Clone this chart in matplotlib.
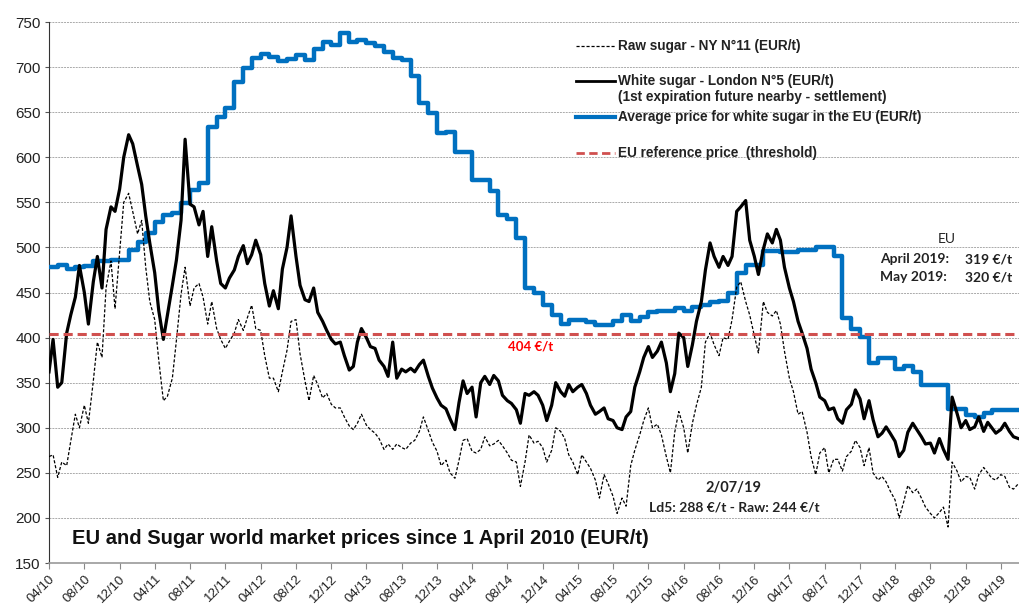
import pandas as pd
import matplotlib.pyplot as plt

plt.rcParams['font.family'] = ['Liberation Sans', 'DejaVu Sans']

# EUR/t, values on the 1st and 15th of each month, starting 1 April 2010
white_london = [
    362, 398, 345, 350, 405, 425, 445, 480, 450, 415, 462, 490, 455, 520, 545, 540, 565, 600, 625, 615, 590, 570, 535, 505,
    472, 430, 398, 425, 458, 486, 530, 620, 548, 545, 525, 540, 490, 523, 485, 460, 455, 466, 475, 490, 502, 482, 492, 508,
    492, 460, 435, 452, 432, 476, 500, 535, 490, 458, 442, 440, 455, 428, 418, 408, 398, 393, 395, 380, 364, 368, 395, 410,
    400, 390, 388, 375, 368, 357, 395, 355, 365, 362, 366, 362, 370, 375, 357, 344, 333, 325, 321, 310, 298, 328, 352, 338,
    345, 312, 350, 357, 348, 358, 352, 336, 330, 327, 320, 305, 338, 336, 340, 336, 325, 308, 325, 350, 340, 335, 348, 340,
    345, 348, 338, 325, 315, 318, 322, 310, 308, 300, 298, 312, 318, 345, 362, 378, 390, 378, 385, 395, 372, 340, 360, 405,
    400, 368, 392, 418, 440, 475, 505, 490, 478, 490, 480, 490, 540, 545, 552, 508, 490, 470, 498, 515, 505, 520, 508, 478,
    455, 440, 418, 405, 388, 365, 350, 334, 330, 320, 322, 310, 305, 320, 326, 342, 332, 310, 330, 309, 290, 294, 301, 294,
    285, 268, 275, 295, 305, 298, 290, 282, 283, 272, 288, 276, 265, 334, 316, 300, 308, 298, 301, 312, 296, 306, 300, 294,
    298, 305, 296, 290, 288,
]
raw_ny = [
    268, 270, 245, 262, 258, 285, 315, 300, 325, 305, 352, 395, 378, 455, 485, 432, 495, 550, 560, 540, 515, 530, 478, 440,
    420, 375, 330, 335, 355, 397, 448, 478, 435, 455, 460, 445, 415, 440, 410, 398, 388, 396, 405, 420, 408, 422, 436, 410,
    408, 380, 355, 355, 340, 362, 386, 418, 420, 382, 352, 330, 358, 348, 333, 338, 326, 322, 322, 312, 302, 298, 305, 315,
    303, 298, 294, 288, 276, 282, 276, 282, 278, 276, 283, 286, 296, 312, 297, 284, 274, 258, 264, 250, 244, 264, 286, 288,
    274, 272, 276, 290, 280, 282, 286, 280, 272, 264, 262, 235, 262, 292, 283, 285, 278, 262, 275, 300, 296, 288, 270, 262,
    248, 270, 262, 255, 242, 222, 248, 238, 224, 205, 222, 213, 258, 275, 292, 308, 322, 300, 304, 292, 268, 250, 295, 318,
    300, 272, 305, 325, 345, 395, 405, 392, 380, 400, 398, 420, 456, 462, 440, 425, 402, 383, 440, 428, 424, 430, 415, 385,
    355, 340, 315, 318, 295, 268, 248, 272, 278, 250, 265, 265, 252, 268, 274, 286, 278, 258, 278, 250, 242, 246, 240, 230,
    220, 200, 218, 236, 228, 232, 222, 212, 205, 200, 206, 212, 190, 262, 252, 240, 246, 245, 232, 248, 256, 250, 244, 242,
    248, 246, 234, 232, 238,
]
# monthly average price for white sugar in the EU, from April 2010
eu_average = [
    478, 480, 476, 478, 479, 485, 485, 486, 486, 497, 506, 516,
    528, 536, 538, 549, 564, 572, 634, 645, 655, 684, 699, 710,
    715, 711, 707, 709, 713, 708, 720, 728, 724, 738, 728, 730,
    727, 723, 717, 710, 708, 690, 660, 649, 627, 628, 606, 606,
    575, 575, 563, 536, 532, 510, 455, 450, 436, 425, 415, 419,
    419, 417, 414, 414, 418, 425, 418, 423, 428, 430, 430, 433,
    429, 434, 436, 440, 441, 449, 472, 481, 481, 496, 496, 495,
    495, 497, 497, 501, 501, 490, 422, 410, 401, 372, 377, 377,
    365, 368, 362, 347, 347, 347, 321, 321, 314, 312, 316, 320,
    320, 320, 320,
]
reference_price = 404

half_months = pd.date_range('2010-04-01', periods=len(white_london), freq='SMS')
months = pd.date_range('2010-04-01', periods=len(eu_average), freq='MS')
x_start = pd.Timestamp('2010-04-01')
x_end = pd.Timestamp('2019-06-03')
tick_dates = pd.date_range('2010-04-01', '2019-04-01', freq='4MS')

fig = plt.figure(figsize=(10.19, 6.05), dpi=100)
ax = fig.add_axes([0.0481, 0.0694, 0.9519, 0.8942])

ax.step(list(months) + [x_end], eu_average + [eu_average[-1]], where='post',
        color='#0070c0', lw=3.2, zorder=3)
ax.plot(half_months, raw_ny, color='black', lw=0.9, linestyle=(0, (2.5, 1.5)), zorder=4)
ax.plot(half_months, white_london, color='black', lw=2.3, zorder=5)
ax.axhline(reference_price, color='#d0504f', lw=2.2, linestyle=(0, (3, 1.6)), zorder=6)

ax.set_xlim(x_start, x_end)
ax.set_ylim(150, 750)
ax.set_yticks(range(150, 751, 50))
ax.set_xticks(tick_dates)
ax.set_xticklabels([d.strftime('%m/%y') for d in tick_dates], rotation=45,
                   ha='right', rotation_mode='anchor', fontsize=9.5)
ax.tick_params(axis='y', labelsize=11, length=3, color='#555555', pad=3, labelcolor='#222222')
ax.tick_params(axis='x', length=4, color='#888888', pad=3, labelcolor='#222222')
ax.grid(axis='y', color='#aaaaaa', lw=0.7, linestyle=(0, (2, 1)))
ax.set_axisbelow(True)
for side in ['top', 'right']:
    ax.spines[side].set_visible(False)
ax.spines['left'].set_color('#333333')
ax.spines['bottom'].set_color('#999999')
ax.spines['bottom'].set_linewidth(1.2)

# legend drawn by hand
tr = ax.transAxes
def lx(px):
    return (px - 49) / 970
def ly(py):
    return (563 - py) / 541

legend_rows = [
    (46, dict(color='black', lw=0.9, linestyle=(0, (2.5, 1.5))), 'Raw sugar - NY N°11 (EUR/t)'),
    (81, dict(color='black', lw=2.0), 'White sugar - London N°5 (EUR/t)'),
    (117, dict(color='#0070c0', lw=3.0), 'Average price for white sugar in the EU (EUR/t)'),
    (153, dict(color='#d0504f', lw=2.0, linestyle=(0, (3, 1.6))), 'EU reference price  (threshold)'),
]
for py, style, label in legend_rows:
    ax.plot([lx(576), lx(615)], [ly(py), ly(py)], transform=tr, clip_on=False, **style)
    ax.text(lx(618), ly(py), label, transform=tr, fontsize=9.8, fontweight='bold',
            va='center', ha='left', color='#222222')
ax.text(lx(618), ly(97), '(1st expiration future nearby - settlement)', transform=tr,
        fontsize=9.8, fontweight='bold', va='center', ha='left', color='#222222')

calib = ['Lato', 'DejaVu Sans']
ax.text(lx(531), ly(346), '404 €/t', transform=tr, color='#ff0000', fontsize=9.5,
        fontweight='bold', ha='center', va='center', family=calib)
ax.text(lx(947), ly(239), 'EU', transform=tr, fontsize=10, ha='center', va='center',
        family=calib, color='#222222')
ax.text(lx(880), ly(259), 'April 2019:', transform=tr, fontsize=10, fontweight='bold',
        ha='left', va='center', family=calib, color='#222222')
ax.text(lx(1012), ly(259), '319 €/t', transform=tr, fontsize=10, fontweight='bold',
        ha='right', va='center', family=calib, color='#222222')
ax.text(lx(880), ly(277), 'May 2019:', transform=tr, fontsize=10, fontweight='bold',
        ha='left', va='center', family=calib, color='#222222')
ax.text(lx(1012), ly(277), '320 €/t', transform=tr, fontsize=10, fontweight='bold',
        ha='right', va='center', family=calib, color='#222222')
ax.text(lx(733), ly(488), '2/07/19', transform=tr, fontsize=10.5, fontweight='bold',
        ha='center', va='center', family=calib, color='#222222')
ax.text(lx(734), ly(507), 'Ld5: 288 €/t - Raw: 244 €/t', transform=tr, fontsize=10,
        fontweight='bold', ha='center', va='center', family=calib, color='#222222')
ax.text(lx(72), ly(538), 'EU and Sugar world market prices since 1 April 2010 (EUR/t)',
        transform=tr, fontsize=14.5, fontweight='bold', ha='left', va='center', color='#111111')

fig.savefig('out.png', dpi=100)
